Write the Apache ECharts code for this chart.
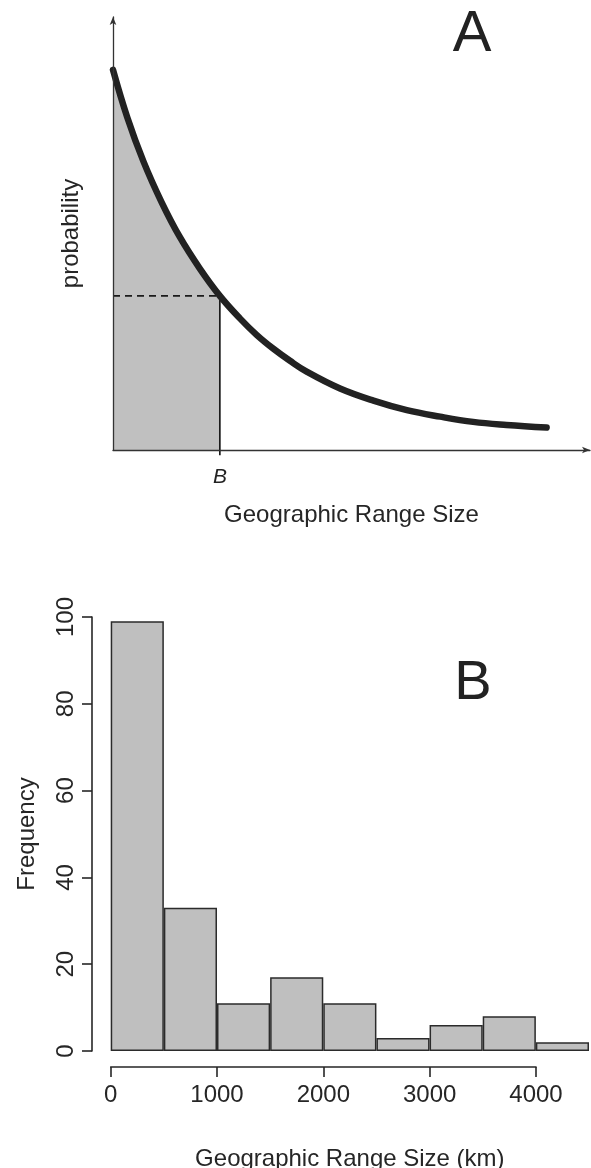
<!DOCTYPE html>
<html>
<head>
<meta charset="utf-8">
<title>Geographic range size</title>
<script src="https://cdn.jsdelivr.net/npm/echarts@6/dist/echarts.min.js"></script>
<style>
html, body { margin: 0; padding: 0; background: #fff; }
#chart { width: 591px; height: 1168px; }
</style>
</head>
<body>
<div id="chart"></div>
<script>
// panel A: curve (arbitrary units, axes run 0-100)
const curveX = [0, 3, 6.4, 10.2, 14, 18.2, 22.4, 26.6, 30.1, 33.6, 37.1, 40.6, 47.6, 54.6, 61.6, 68.6, 75.5, 82.5, 90.9];
const curveY = [87.8, 76.8, 66.6, 57.2, 49.2, 41.9, 35.6, 30.4, 26.6, 23.4, 20.6, 18.1, 14.2, 11.4, 9.2, 7.7, 6.5, 5.8, 5.2];
const cutoffB = 22.4;

// panel B: histogram, bins of 500 km
const binLabels = ['0-500', '500-1000', '1000-1500', '1500-2000', '2000-2500', '2500-3000', '3000-3500', '3500-4000', '4000-4500'];
const counts = [99, 33, 11, 17, 11, 3, 6, 8, 2];
const freqTicks = [0, 20, 40, 60, 80, 100];
const kmTicks = [0, 1000, 2000, 3000, 4000];

const FONT = 'Liberation Sans, Arial, Helvetica, sans-serif';
const TXT = '#262626';
const INK = '#262626';

const curveData = curveX.map((x, i) => [x, curveY[i]]);
const shadeData = curveData.filter(p => p[0] <= cutoffB);
const yAtB = curveY[curveX.indexOf(cutoffB)];

const chart = echarts.init(document.getElementById('chart'), null, { renderer: 'canvas' });

chart.setOption({
  animation: false,
  textStyle: { fontFamily: FONT, color: TXT },
  grid: [
    { left: 113, top: 17, width: 477, height: 433, outerBoundsMode: 'none', containLabel: false },
    { left: 110.7, top: 617, width: 478.3, height: 434, outerBoundsMode: 'none', containLabel: false },
    { left: 110.7, top: 1057, width: 425.3, height: 10, outerBoundsMode: 'none', containLabel: false }
  ],
  xAxis: [
    {
      gridIndex: 0, type: 'value', min: 0, max: 100, z: 5,
      axisLine: { show: true, symbol: ['none', 'arrow'], symbolSize: [5, 8], lineStyle: { color: '#333', width: 1.3 } },
      axisTick: { show: false }, axisLabel: { show: false }, splitLine: { show: false },
      name: 'Geographic Range Size', nameLocation: 'middle', nameGap: 53,
      nameTextStyle: { fontSize: 24, color: TXT, fontFamily: FONT }
    },
    {
      gridIndex: 1, type: 'category', data: binLabels, boundaryGap: true,
      axisLine: { show: false }, axisTick: { show: false }, axisLabel: { show: false }, splitLine: { show: false },
      name: 'Geographic Range Size (km)', nameLocation: 'middle', nameGap: 96,
      nameTextStyle: { fontSize: 24, color: TXT, fontFamily: FONT }
    },
    {
      gridIndex: 2, type: 'value', position: 'bottom',
      min: kmTicks[0], max: kmTicks[kmTicks.length - 1], interval: kmTicks[1] - kmTicks[0],
      axisLine: { show: true, lineStyle: { color: INK, width: 1.6 } },
      axisTick: { show: true, length: 10, lineStyle: { color: INK, width: 1.6 } },
      axisLabel: { fontSize: 24, color: TXT, margin: 16, showMinLabel: true, showMaxLabel: true, formatter: v => String(v) },
      splitLine: { show: false }
    }
  ],
  yAxis: [
    {
      gridIndex: 0, type: 'value', min: 0, max: 100, z: 5,
      axisLine: { show: true, symbol: ['none', 'arrow'], symbolSize: [5, 8], lineStyle: { color: '#333', width: 1.3 } },
      axisTick: { show: false }, axisLabel: { show: false }, splitLine: { show: false },
      name: 'probability', nameLocation: 'middle', nameGap: 30, nameRotate: 90,
      nameTextStyle: { fontSize: 24, color: TXT, fontFamily: FONT }
    },
    {
      gridIndex: 1, type: 'value', offset: 18.7,
      min: freqTicks[0], max: freqTicks[freqTicks.length - 1], interval: freqTicks[1] - freqTicks[0],
      axisLine: { show: true, lineStyle: { color: INK, width: 1.6 } },
      axisTick: { show: true, length: 10, lineStyle: { color: INK, width: 1.6 } },
      axisLabel: { fontSize: 24, color: TXT, rotate: 90, margin: 14, showMinLabel: true, showMaxLabel: true },
      splitLine: { show: false },
      name: 'Frequency', nameLocation: 'middle', nameGap: 53, nameRotate: 90,
      nameTextStyle: { fontSize: 24, color: TXT, fontFamily: FONT }
    },
    { gridIndex: 2, type: 'value', show: false }
  ],
  series: [
    {
      // shaded area up to B
      type: 'line', xAxisIndex: 0, yAxisIndex: 0, data: shadeData, smooth: 0.4,
      symbol: 'none', lineStyle: { width: 0 },
      areaStyle: { color: '#c0c0c0', opacity: 1 }, z: 1
    },
    {
      type: 'line', xAxisIndex: 0, yAxisIndex: 0, data: [[0, yAtB], [cutoffB, yAtB]],
      symbol: 'none', lineStyle: { color: '#1a1a1a', width: 1.7, type: [7, 5] }, z: 2
    },
    {
      type: 'line', xAxisIndex: 0, yAxisIndex: 0, data: [[cutoffB, -1.2], [cutoffB, yAtB]],
      symbol: 'none', clip: false, lineStyle: { color: '#1a1a1a', width: 1.7 }, z: 2
    },
    {
      type: 'line', xAxisIndex: 0, yAxisIndex: 0, data: curveData, smooth: 0.4,
      symbol: 'none', lineStyle: { color: '#222', width: 6.5, cap: 'round' }, z: 3
    },
    {
      type: 'bar', xAxisIndex: 1, yAxisIndex: 1, data: counts,
      barCategoryGap: '0%',
      itemStyle: { color: '#bfbfbf', borderColor: '#2b2b2b', borderWidth: 1.5 }
    }
  ],
  graphic: [
    { type: 'text', x: 472, y: 35, style: { text: 'A', fontSize: 58, fontFamily: FONT, fill: '#222', align: 'center', verticalAlign: 'middle' } },
    { type: 'text', x: 220, y: 477, style: { text: 'B', fontSize: 21, fontStyle: 'italic', fontFamily: FONT, fill: '#222', align: 'center', verticalAlign: 'middle' } },
    { type: 'text', x: 473, y: 684, style: { text: 'B', fontSize: 56, fontFamily: FONT, fill: '#222', align: 'center', verticalAlign: 'middle' } }
  ]
});

window.addEventListener('resize', () => chart.resize());
</script>
</body>
</html>
